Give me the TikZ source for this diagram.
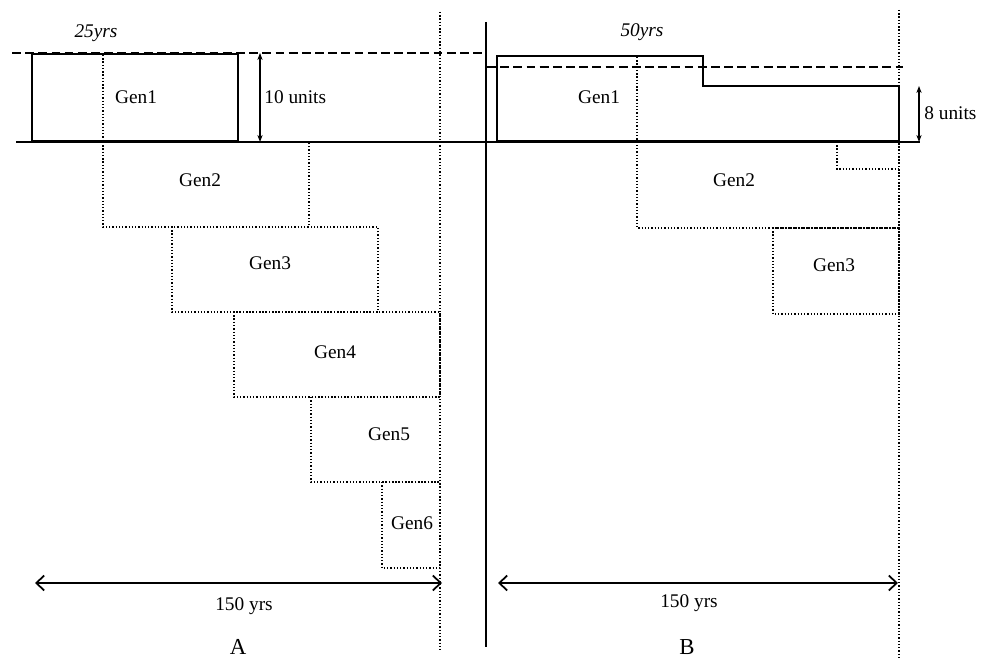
\documentclass[tikz,border=0pt]{standalone}
\usepackage{fontspec}
\setmainfont{Liberation Serif}
\usetikzlibrary{arrows.meta}
\tikzset{
  every picture/.style={x=0.02cm, y=-0.02cm, line join=miter, >=Stealth},
  solidline/.style={line width=0.75pt},
  limitline/.style={line width=1pt, dash pattern=on 5pt off 2.5pt},
  genline/.style={line width=0.7pt, dash pattern=on 0.75pt off 1.1pt},
  spanline/.style={line width=1pt, {Straight Barb[length=4.5pt,width=8.5pt]}-{Straight Barb[length=4.5pt,width=8.5pt]}},
  unitline/.style={line width=0.6pt, {Stealth[length=4pt,width=3pt]}-{Stealth[length=4pt,width=3pt]}},
  lbl/.style={font=\fontsize{11}{13}\selectfont, inner sep=0pt},
  panel/.style={font=\fontsize{13}{15}\selectfont, inner sep=0pt},
}

\begin{document}
\begin{tikzpicture}
\useasboundingbox (0,0) rectangle (987,658);
% A: 25yr generations
\draw[limitline](12,53)--(485,53);
\draw[solidline](16,142)--(920,142);
\draw[solidline](32,54) rectangle (238,141);
\draw[genline](103,55)--(103,142);
\draw[genline](103,142) rectangle (309,227);
\draw[genline](172,227) rectangle (378,312);
\draw[genline](234,312) rectangle (440,397);
\draw[genline](311,397) rectangle (440,482);
\draw[genline](382,482) rectangle (440,568);
\draw[genline](440,12)--(440,652);
\node[lbl,font=\fontsize{11}{13}\selectfont\itshape] (yrsA) at (96,33) {25yrs};
\node[lbl] (genA1) at (136,97) {Gen1};
\node[lbl] (genA2) at (200,180) {Gen2};
\node[lbl] (genA3) at (270,263) {Gen3};
\node[lbl] (genA4) at (335,352) {Gen4};
\node[lbl] (genA5) at (389,434) {Gen5};
\node[lbl] (genA6) at (412,523) {Gen6};
\coordinate (topA) at (260,53);
\coordinate (baseA) at (260,142);
\draw[unitline](topA)--(baseA);
\node[lbl,anchor=west] (unitsA) at (264,97) {10 units};
\coordinate (spanA0) at (35,583);
\coordinate (spanA1) at (442,583);
\draw[spanline](spanA0)--(spanA1);
\node[lbl] (spanlblA) at (244,606) {150 yrs};
\node[panel] (panelA) at (238,647) {A};
% divider
\draw[solidline](486,22)--(486,647);
% B: 50yr generations
\draw[limitline](487,67)--(903,67);
\draw[solidline](497,141)--(497,56)--(703,56)--(703,86)--(899,86)--(899,141)--cycle;
\draw[genline](637,57)--(637,228)--(899,228)--(899,141);
\draw[genline](837,142)--(837,169)--(899,169);
\draw[genline](773,228) rectangle (899,314);
\draw[genline](899,10)--(899,658);
\node[lbl,font=\fontsize{11}{13}\selectfont\itshape] (yrsB) at (642,32) {50yrs};
\node[lbl] (genB1) at (599,97) {Gen1};
\node[lbl] (genB2) at (734,180) {Gen2};
\node[lbl] (genB3) at (834,265) {Gen3};
\coordinate (topB) at (919,86);
\coordinate (baseB) at (919,142);
\draw[unitline](topB)--(baseB);
\node[lbl,anchor=west] (unitsB) at (924,113) {8 units};
\coordinate (spanB0) at (498,583);
\coordinate (spanB1) at (898,583);
\draw[spanline](spanB0)--(spanB1);
\node[lbl] (spanlblB) at (689,603) {150 yrs};
\node[panel] (panelB) at (687,647) {B};
\end{tikzpicture}
\end{document}
